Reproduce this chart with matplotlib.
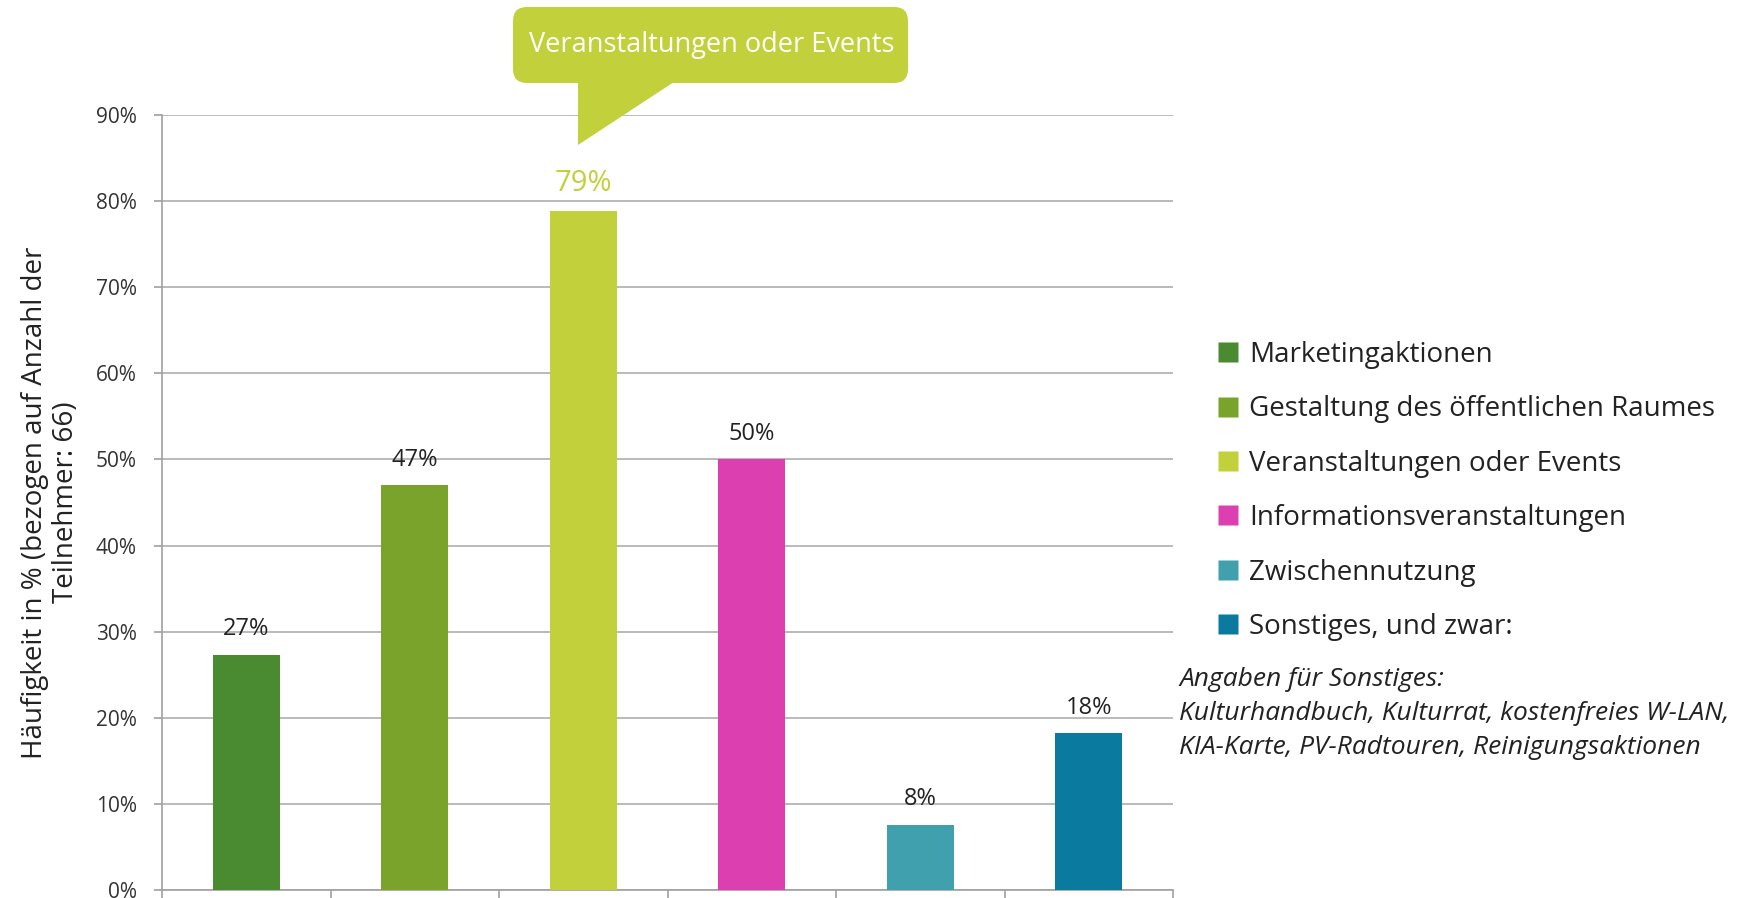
import matplotlib
matplotlib.use("Agg")
import matplotlib.pyplot as plt
from matplotlib.patches import FancyBboxPatch, Polygon
from matplotlib.lines import Line2D

categories = ["Marketingaktionen", "Gestaltung des öffentlichen Raumes",
              "Veranstaltungen oder Events", "Informationsveranstaltungen",
              "Zwischennutzung", "Sonstiges, und zwar:"]
values = [27.3, 47.0, 78.8, 50.0, 7.6, 18.2]
value_labels = ["27%", "47%", "79%", "50%", "8%", "18%"]
colors = ["#4a8a30", "#7aa32b", "#c2d13b", "#dc40b0", "#41a0ae", "#0a7a9e"]
yticks = [0, 10, 20, 30, 40, 50, 60, 70, 80, 90]
note_lines = ["Angaben für Sonstiges:",
              "Kulturhandbuch, Kulturrat, kostenfreies W-LAN,",
              "KIA-Karte, PV-Radtouren, Reinigungsaktionen"]
highlight = 2

plt.rcParams["font.family"] = ["Open Sans", "DejaVu Sans"]

W, H = 1754, 898
fig = plt.figure(figsize=(W / 100, H / 100), dpi=100)
ax = fig.add_axes([162 / W, 1 - 890 / H, (1173 - 162) / W, (890 - 115) / H])

x = range(len(values))
ax.bar(x, values, width=0.4, color=colors, zorder=3)
ax.set_xlim(-0.5, len(values) - 0.5)
ax.set_ylim(0, 90)

ax.set_yticks(yticks)
ax.set_yticklabels([f"{t}%" for t in yticks], fontsize=15, color="#333333")
ax.yaxis.grid(True, color="#b4b4b4", linewidth=1.3, zorder=0)
ax.set_xticks([i - 0.5 for i in range(len(values) + 1)])
ax.set_xticklabels([])
ax.tick_params(axis="x", length=7, color="#a0a0a0", width=1.2)
ax.tick_params(axis="y", length=6, color="#a0a0a0", width=1.2, pad=12)
for s in ["top", "right"]:
    ax.spines[s].set_visible(False)
for s in ["left", "bottom"]:
    ax.spines[s].set_color("#a0a0a0")
    ax.spines[s].set_linewidth(1.2)

for i, (v, lab) in enumerate(zip(values, value_labels)):
    if i == highlight:
        ax.text(i, v + 1.6, lab, ha="center", va="bottom", fontsize=21,
                color=colors[i])
    else:
        ax.text(i, v + 1.6, lab, ha="center", va="bottom", fontsize=17,
                color="#222222")

ax.set_ylabel("Häufigkeit in % (bezogen auf Anzahl der\nTeilnehmer: 66)",
              fontsize=20, color="#222222", linespacing=1.15)
ax.yaxis.set_label_coords((80 - 162) / 1011, 0.5)

# callout bubble
def fx(px):
    return px / W

def fy(py):
    return 1 - py / H

box = FancyBboxPatch((fx(520), fy(76)), fx(381), (76 - 14) / H,
                     boxstyle="round,pad=0.004,rounding_size=0.008",
                     transform=fig.transFigure, facecolor=colors[highlight],
                     edgecolor="none", mutation_aspect=W / H)
fig.patches.append(box)
tail = Polygon([(fx(578), fy(80)), (fx(677), fy(80)), (fx(578), fy(145))],
               closed=True, transform=fig.transFigure,
               facecolor=colors[highlight], edgecolor="none")
fig.patches.append(tail)
fig.text(fx(712), fy(45), categories[highlight], ha="center", va="center",
         fontsize=19.5, color="white")

# legend
handles = [Line2D([0], [0], marker="s", linestyle="none", markersize=14,
                  markerfacecolor=c, markeredgecolor="none") for c in colors]
fig.legend(handles, categories, loc="upper left",
           bbox_to_anchor=(fx(1192), fy(316)), frameon=False, fontsize=20,
           handlelength=0.8, handletextpad=0.35, labelspacing=0.95,
           labelcolor="#222222")

for k, line in enumerate(note_lines):
    fig.text(fx(1179), fy(679 + k * 34.5), line, ha="left", va="center",
             fontsize=19, style="italic", color="#222222")

fig.savefig("out.png", dpi=100)
